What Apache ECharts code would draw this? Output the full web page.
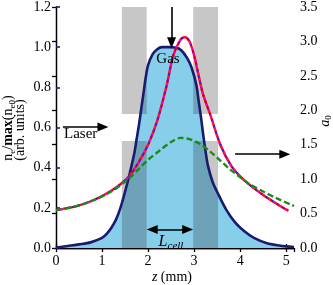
<!DOCTYPE html>
<html><head><meta charset="utf-8">
<script src="https://cdn.jsdelivr.net/npm/echarts@6/dist/echarts.min.js"></script>
<style>html,body{margin:0;padding:0;background:#fff}#c{width:333px;height:285px}</style>
</head><body><div id="c"></div>
<script>
// density profile (left axis)
const densZ = [0, 0.25, 0.5, 0.75, 1.0, 1.1, 1.2, 1.3, 1.4, 1.5, 1.6, 1.7, 1.75, 1.8, 1.85, 1.9, 1.95, 2.0, 2.1, 2.2, 2.3, 2.45, 2.6, 2.72, 2.85, 2.95, 3.05, 3.1, 3.15, 3.2, 3.25, 3.3, 3.4, 3.5, 3.7, 3.9, 4.1, 4.3, 4.6, 5.0, 5.17];
const densV = [0.002, 0.01, 0.018, 0.028, 0.05, 0.07, 0.1, 0.14, 0.2, 0.28, 0.37, 0.47, 0.54, 0.61, 0.69, 0.77, 0.85, 0.91, 0.965, 0.99, 1.0, 1.0, 0.998, 0.985, 0.945, 0.895, 0.81, 0.73, 0.65, 0.56, 0.48, 0.41, 0.33, 0.28, 0.19, 0.125, 0.082, 0.05, 0.022, 0.008, 0.005];
// a0 vacuum-like curve (right axis)
const redZ = [0, 0.4, 0.8, 1.2, 1.57, 1.8, 2.0, 2.2, 2.4, 2.55, 2.7, 2.8, 2.9, 3.0, 3.1, 3.2, 3.35, 3.57, 3.8, 4.0, 4.2, 4.5, 4.8, 5.05];
const redA = [0.55, 0.6, 0.69, 0.83, 1.03, 1.25, 1.5, 1.85, 2.35, 2.8, 3.02, 3.06, 3.0, 2.8, 2.5, 2.22, 1.94, 1.5, 1.2, 1.04, 0.92, 0.77, 0.64, 0.54];
// a0 green dashed curve (right axis)
const greenZ = [0, 0.4, 0.8, 1.2, 1.57, 1.8, 2.0, 2.26, 2.5, 2.7, 2.9, 3.13, 3.35, 3.57, 3.8, 3.96, 4.2, 4.5, 4.8, 5.17];
const greenA = [0.55, 0.6, 0.69, 0.82, 1.0, 1.15, 1.28, 1.42, 1.54, 1.6, 1.58, 1.51, 1.4, 1.27, 1.13, 1.05, 0.93, 0.82, 0.72, 0.61];
// gas cell walls (z ranges) and gap in the walls (left axis values)
const wallZ = [[1.43, 1.97], [2.98, 3.52]];
const wallGap = [0.533, 0.667];
const xTicks = [0, 1, 2, 3, 4, 5];

const F = 'Liberation Serif';
const zip = (a, b) => a.map((v, i) => [v, b[i]]);
const dens = zip(densZ, densV), red = zip(redZ, redA), green = zip(greenZ, greenA);

const areas = [];
wallZ.forEach(w => {
  areas.push([{coord: [w[0], 0]}, {coord: [w[1], wallGap[0]]}]);
  areas.push([{coord: [w[0], wallGap[1]]}, {coord: [w[1], 1.2]}]);
});

const chart = echarts.init(document.getElementById('c'), null, {renderer: 'canvas'});
const lbl = {fontFamily: F, fontSize: 14, color: '#000'};
chart.setOption({
  animation: false,
  grid: {left: 56, right: 39, top: 5, bottom: 37},
  xAxis: [{
    type: 'value', min: 0, max: 5.17, interval: 1,
    axisLine: {lineStyle: {color: '#000', width: 1.3}},
    axisTick: {inside: true, length: 4, lineStyle: {color: '#000', width: 1.3}},
    axisLabel: Object.assign({margin: 6, showMaxLabel: false, formatter: v => xTicks.includes(v) ? String(v) : ''}, lbl),
    splitLine: {show: false}
  }, {
    type: 'value', min: 0, max: 5.17, interval: 1, position: 'top',
    axisLine: {lineStyle: {color: '#000', width: 1.3}},
    axisTick: {inside: true, length: 4, lineStyle: {color: '#000', width: 1.3}},
    axisLabel: {show: false}, splitLine: {show: false}
  }],
  yAxis: [{
    type: 'value', min: 0, max: 1.2, interval: 0.2,
    axisLine: {show: true, lineStyle: {color: '#2b2b80', width: 1.3}},
    axisTick: {show: true, inside: true, length: 4, lineStyle: {color: '#1c1c70', width: 1.6}},
    axisLabel: Object.assign({margin: 5, formatter: v => v.toFixed(1)}, lbl),
    splitLine: {show: false}
  }, {
    type: 'value', min: 0, max: 3.5, interval: 0.5, position: 'right',
    axisLine: {show: true, lineStyle: {color: '#000', width: 1.3}},
    axisTick: {show: true, inside: true, length: 4, lineStyle: {color: '#000', width: 1.3}},
    axisLabel: Object.assign({margin: 6, formatter: v => v.toFixed(1)}, lbl),
    splitLine: {show: false}
  }],
  series: [
    {type: 'line', data: dens, z: 1, symbol: 'none', smooth: 0.3,
     lineStyle: {width: 0}, areaStyle: {color: '#87ceeb', opacity: 1},
     markArea: {silent: true, z: 2, itemStyle: {color: 'rgba(40,40,40,0.26)'}, data: areas}},
    {type: 'line', data: dens, z: 3, symbol: 'none', smooth: 0.3,
     lineStyle: {color: '#1a1a6e', width: 2.6}},
    {type: 'line', yAxisIndex: 1, data: red, z: 4, symbol: 'none', smooth: 0.3,
     lineStyle: {color: '#ff0000', width: 2.4}},
    {type: 'line', yAxisIndex: 1, data: red, z: 5, symbol: 'none', smooth: 0.3,
     lineStyle: {color: '#ff00ff', width: 2.2, type: [1.5, 5], dashOffset: 0}},
    {type: 'line', yAxisIndex: 1, data: red, z: 6, symbol: 'none', smooth: 0.3,
     lineStyle: {color: '#2020ff', width: 2.0, type: [1.5, 5], dashOffset: 3.2}},
    {type: 'line', yAxisIndex: 1, data: green, z: 7, symbol: 'none', smooth: 0.3,
     lineStyle: {color: '#1a8a1a', width: 2.4, type: [6, 3]}},
    {type: 'line', data: [], z: 8,
     markLine: {silent: true, z: 8, symbol: ['none', 'triangle'], symbolSize: [9, 11],
       label: {show: false}, lineStyle: {color: '#000', width: 1.6, type: 'solid'},
       data: [
         [{coord: [2.51, 1.2]}, {coord: [2.51, 1.022]}],
         [{coord: [0.15, 0.602]}, {coord: [1.02, 0.602]}],
         [{coord: [3.89, 0.467]}, {coord: [4.97, 0.467]}],
         [{coord: [2.09, 0.092], symbol: 'triangle'}, {coord: [2.86, 0.092]}]
       ]}}
  ],
  graphic: [
    {type: 'text', x: 168, y: 59, style: {text: 'Gas', font: '15px "' + F + '"', fill: '#000', align: 'center', verticalAlign: 'middle'}, z: 20},
    {type: 'text', x: 64, y: 134, style: {text: 'Laser', font: '15px "' + F + '"', fill: '#000', align: 'left', verticalAlign: 'middle'}, z: 20},
    {type: 'text', x: 171, y: 242, z: 20, style: {
      text: '{i|L}{s|cell}', align: 'center', verticalAlign: 'middle',
      rich: {i: {fontFamily: F, fontStyle: 'italic', fontSize: 16, lineHeight: 20, verticalAlign: 'middle'},
             s: {fontFamily: F, fontStyle: 'italic', fontSize: 11, lineHeight: 10, verticalAlign: 'bottom'}}}},
    {type: 'text', x: 172, y: 277, z: 20, style: {
      text: '{i|z} {n|(mm)}', align: 'center', verticalAlign: 'middle',
      rich: {i: {fontFamily: F, fontStyle: 'italic', fontSize: 14}, n: {fontFamily: F, fontSize: 14}}}},
    {type: 'text', x: 8, y: 128, rotation: Math.PI / 2, z: 20, style: {
      text: '{n|n}{s|e}{n|/}{b|max}{n|(n}{s|e0}{n|)}', align: 'center', verticalAlign: 'middle',
      rich: {n: {fontFamily: F, fontSize: 14, lineHeight: 18, verticalAlign: 'middle'},
             b: {fontFamily: F, fontSize: 14, fontWeight: 'bold', lineHeight: 18, verticalAlign: 'middle'},
             s: {fontFamily: F, fontSize: 9, lineHeight: 9, verticalAlign: 'bottom'}}}},
    {type: 'text', x: 20, y: 130, rotation: Math.PI / 2, z: 20, style: {
      text: '(arb. units)', font: '14px "' + F + '"', fill: '#000', align: 'center', verticalAlign: 'middle'}},
    {type: 'text', x: 325, y: 121, rotation: Math.PI / 2, z: 20, style: {
      text: '{i|a}{s|0}', align: 'center', verticalAlign: 'middle',
      rich: {i: {fontFamily: F, fontStyle: 'italic', fontSize: 14, lineHeight: 16, verticalAlign: 'middle'},
             s: {fontFamily: F, fontSize: 9, lineHeight: 9, verticalAlign: 'bottom'}}}}
  ]
});
</script></body></html>
